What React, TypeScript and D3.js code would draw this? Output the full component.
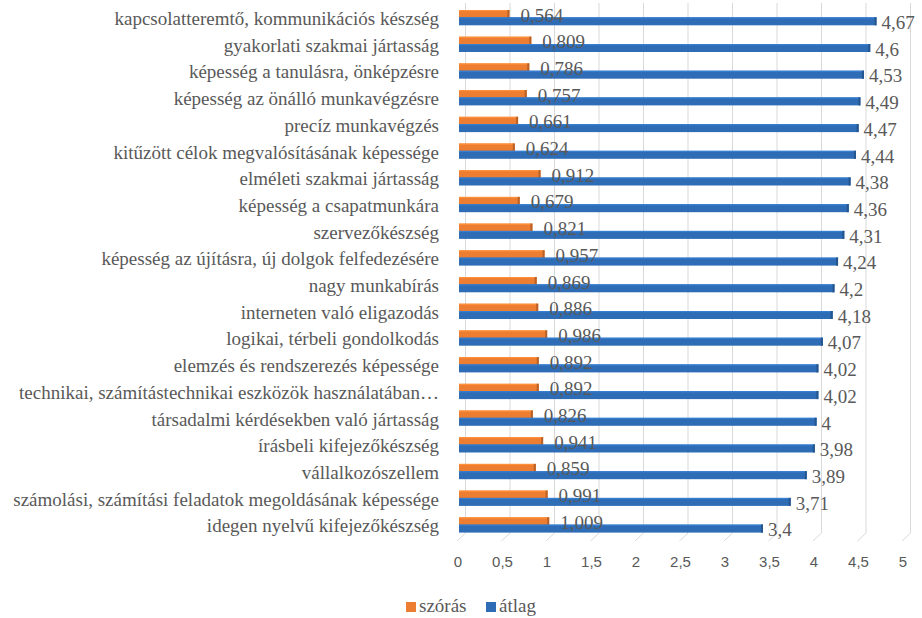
import * as d3 from "d3";

const categories = [
  "kapcsolatteremtő, kommunikációs készség",
  "gyakorlati szakmai jártasság",
  "képesség a tanulásra, önképzésre",
  "képesség az önálló munkavégzésre",
  "precíz munkavégzés",
  "kitűzött célok megvalósításának képessége",
  "elméleti szakmai jártasság",
  "képesség a csapatmunkára",
  "szervezőkészség",
  "képesség az újításra, új dolgok felfedezésére",
  "nagy munkabírás",
  "interneten való eligazodás",
  "logikai, térbeli gondolkodás",
  "elemzés és rendszerezés képessége",
  "technikai, számítástechnikai eszközök használatában…",
  "társadalmi kérdésekben való jártasság",
  "írásbeli kifejezőkészség",
  "vállalkozószellem",
  "számolási, számítási feladatok megoldásának képessége",
  "idegen nyelvű kifejezőkészség",
];

const szoras = [
  0.564, 0.809, 0.786, 0.757, 0.661, 0.624, 0.912, 0.679, 0.821, 0.957, 0.869,
  0.886, 0.986, 0.892, 0.892, 0.826, 0.941, 0.859, 0.991, 1.009,
];

const atlag = [
  4.67, 4.6, 4.53, 4.49, 4.47, 4.44, 4.38, 4.36, 4.31, 4.24, 4.2, 4.18, 4.07,
  4.02, 4.02, 4, 3.98, 3.89, 3.71, 3.4,
];

const ticks = [0, 0.5, 1, 1.5, 2, 2.5, 3, 3.5, 4, 4.5, 5];

const W = 922;
const H = 618;
const ORANGE = "#ED7D31";
const BLUE = "#2E6DB6";
const GRAY = "#595959";
const SERIF = "Liberation Serif";
const SANS = "Liberation Sans";

const fmt = (v: number) => String(v).replace(".", ",");

// bars sit mid-depth, tick labels on the front edge of the floor, grid on the back wall
const x = d3.scaleLinear().domain([0, 5]).range([459, 906]);
const xFront = d3.scaleLinear().domain([0, 5]).range([458, 903]);
const y = d3.scaleBand<string>().domain(categories).range([3, 537]);
const depth = 7.5;

function Bar({ v, top, h, color }: { v: number; top: number; h: number; color: string }) {
  const x0 = x(0);
  const x1 = x(v);
  const dark = d3.color(color)!.darker(0.7).toString();
  const light = d3.color(color)!.brighter(0.4).toString();
  return (
    <g>
      <rect x={x0} y={top} width={x1 - x0} height={h} fill={color} />
      <rect x={x0} y={top} width={x1 - x0} height={1.2} fill={light} />
      <rect x={x1 - 2} y={top} width={2} height={h} fill={dark} />
    </g>
  );
}

export default function App() {
  const legend = [
    { name: "szórás", color: ORANGE, x: 406 },
    { name: "átlag", color: BLUE, x: 486 },
  ];
  return (
    <svg
      width={W}
      height={H}
      style={{ position: "absolute", left: 0, top: 0, background: "#fff" }}
    >
      {/* grid on back wall + slanted floor lines */}
      <g stroke="#d9d9d9" strokeWidth={1}>
        {ticks.map((t) => (
          <g key={t}>
            <line x1={xFront(t) + depth} x2={xFront(t) + depth} y1={3} y2={533} />
            <line x1={xFront(t) + depth} x2={xFront(t) - 1} y1={533} y2={541} />
          </g>
        ))}
      </g>

      {/* tick labels */}
      <g style={{ fontFamily: SANS, fontSize: 15 }} fill={GRAY} textAnchor="middle">
        {ticks.map((t) => (
          <text key={t} x={xFront(t)} y={567}>
            {fmt(t)}
          </text>
        ))}
      </g>

      {/* category labels */}
      <g style={{ fontFamily: SERIF, fontSize: 19 }} fill={GRAY} textAnchor="end">
        {categories.map((c) => (
          <text key={c} x={439} y={(y(c) || 0) + 22}>
            {c}
          </text>
        ))}
      </g>

      {/* bars */}
      {categories.map((c, i) => {
        const b = y(c) || 0;
        return (
          <g key={c}>
            <Bar v={szoras[i]} top={b + 7} h={8} color={ORANGE} />
            <Bar v={atlag[i]} top={b + 14.3} h={8} color={BLUE} />
          </g>
        );
      })}

      {/* value labels */}
      <g style={{ fontFamily: SERIF, fontSize: 19 }} fill={GRAY}>
        {categories.map((c, i) => {
          const b = y(c) || 0;
          return (
            <g key={c}>
              <text x={x(szoras[i]) + 11} y={b + 18.5}>
                {fmt(szoras[i])}
              </text>
              <text x={x(atlag[i]) + 5} y={b + 26}>
                {fmt(atlag[i])}
              </text>
            </g>
          );
        })}
      </g>

      {/* legend */}
      <g style={{ fontFamily: SERIF, fontSize: 19 }} fill={GRAY}>
        {legend.map((it) => (
          <g key={it.name}>
            <rect x={it.x} y={602} width={10} height={10} fill={it.color} />
            <text x={it.x + 13} y={612}>
              {it.name}
            </text>
          </g>
        ))}
      </g>
    </svg>
  );
}
